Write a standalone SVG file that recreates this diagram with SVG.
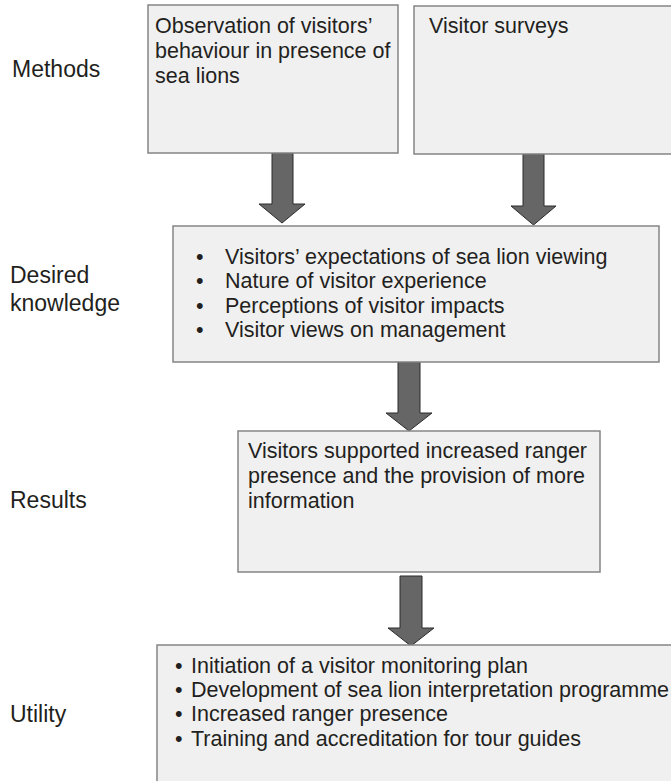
<svg xmlns="http://www.w3.org/2000/svg" width="671" height="781" viewBox="0 0 671 781">
<style>
.box{fill:#f0f0f0;stroke:#858585;stroke-width:1.5}
.arrow{fill:#666666;stroke:#2b2b2b;stroke-width:1}
.t{font-family:"Liberation Sans",Arial,sans-serif;font-size:21.5px;fill:#231f20}
.lbl{font-family:"Liberation Sans",Arial,sans-serif;font-size:23px;fill:#231f20}
</style>
<rect width="671" height="781" fill="#ffffff"/>
<g id="labels">
<text class="lbl" x="12" y="77">Methods</text>
<text class="lbl" x="10" y="283">Desired</text>
<text class="lbl" x="10" y="311">knowledge</text>
<text class="lbl" x="10" y="508">Results</text>
<text class="lbl" x="10" y="722">Utility</text>
</g>
<g id="connectors">
<path class="arrow" d="M272,153 L293,153 L293,204 L305,204 L282,223 L259,204 L272,204 Z"/>
<path class="arrow" d="M523,154 L544,154 L544,206 L556,206 L533.5,225 L511,206 L523,206 Z"/>
<path class="arrow" d="M398,362 L420,362 L420,413 L432,413 L409,431 L386,413 L398,413 Z"/>
<path class="arrow" d="M400,576 L422,576 L422,628 L434,628 L411,646 L388,628 L400,628 Z"/>
</g>
<g id="observation">
<rect class="box" x="148" y="5" width="250" height="148"/>
<text class="t" x="155" y="33">Observation of visitors’</text>
<text class="t" x="155" y="58">behaviour in presence of</text>
<text class="t" x="155" y="83">sea lions</text>
</g>
<g id="surveys">
<rect class="box" x="414" y="6" width="270" height="148"/>
<text class="t" x="429" y="33">Visitor surveys</text>
</g>
<g id="knowledge">
<rect class="box" x="173" y="226" width="486" height="136"/>
<text class="t" x="196" y="264">•</text><text class="t" x="225" y="264">Visitors’ expectations of sea lion viewing</text>
<text class="t" x="196" y="288">•</text><text class="t" x="225" y="288">Nature of visitor experience</text>
<text class="t" x="196" y="313">•</text><text class="t" x="225" y="313">Perceptions of visitor impacts</text>
<text class="t" x="196" y="337">•</text><text class="t" x="225" y="337">Visitor views on management</text>
</g>
<g id="results">
<rect class="box" x="238" y="431" width="362" height="141"/>
<text class="t" x="248" y="458">Visitors supported increased ranger</text>
<text class="t" x="248" y="483">presence and the provision of more</text>
<text class="t" x="248" y="508">information</text>
</g>
<g id="utility">
<rect class="box" x="157" y="645" width="530" height="150"/>
<text class="t" x="175" y="673">•</text><text class="t" x="191" y="673">Initiation of a visitor monitoring plan</text>
<text class="t" x="175" y="697">•</text><text class="t" x="191" y="697">Development of sea lion interpretation programme</text>
<text class="t" x="175" y="721">•</text><text class="t" x="191" y="721">Increased ranger presence</text>
<text class="t" x="175" y="746">•</text><text class="t" x="191" y="746">Training and accreditation for tour guides</text>
</g>
</svg>
